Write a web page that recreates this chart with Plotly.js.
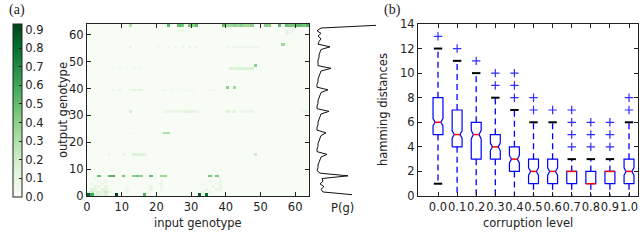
<!DOCTYPE html>
<html><head><meta charset="utf-8">
<script src="https://cdn.plot.ly/plotly-3.0.1.min.js"></script>
<style>html,body{margin:0;padding:0;background:#fff}#chart{width:640px;height:251px}</style>
</head><body><div id="chart"></div>
<script>
// ---------- panel (a): transition heatmap ----------
const nGeno = 64;
const heatRows = [0, 1, 2, 3, 4, 5, 6, 7, 15, 23, 31, 39, 40, 47, 48, 55, 56, 60, 61, 62, 63];
const heatCols = [
  [0,1,2,3,4,5,8,16,32,34],
  [0,1,2,3,4,5,6,11,17,33,35],
  [1,2,4,5,11,18,21,34,37,38],
  [2,3,5,18,21,36,38],
  [1,4,21,33,37,38],
  [3,5,21,35,38],
  [2,38],
  [3,6,7,10,13,14,15,18,21,22,35,37,40,42],
  [6,10,13,14,15,16,48],
  [12,16,21,22,23],
  [12,22,23,24,25,26,27,28,29,30,31,32,40,41,42,44,45,46,47,62,63],
  [7,9,12,13,14,15,22,24,26,28,30,35,36],
  [40,42],
  [7,9,11,13,15,41,42,43,44,45,46,47],
  [48],
  [12,20,23,25,27,29,31,40,41,42,43,44,45,46,47,48,49],
  [56],
  [57,58],
  [26,27,57,59],
  [58,59,60],
  [12,23,26,27,29,30,31,39,40,41,42,43,44,45,46,47,51,52,55,57,58,59,60,61,62,63]
];
const heatVals = [
  [0.85,0.6,0.15,0.12,0.1,0.15,0.93,0.55,0.85,0.8],
  [0.12,0.2,0.1,0.15,0.1,0.2,0.1,0.08,0.06,0.12,0.1],
  [0.12,0.12,0.12,0.12,0.08,0.1,0.08,0.1,0.1,0.08],
  [0.1,0.1,0.1,0.1,0.08,0.1,0.1],
  [0.08,0.08,0.08,0.06,0.08,0.08],
  [0.08,0.08,0.06,0.06,0.08],
  [0.06,0.06],
  [0.5,0.5,0.55,0.45,0.4,0.45,0.4,0.5,0.35,0.35,0.45,0.45,0.08,0.08],
  [0.06,0.1,0.15,0.15,0.15,0.12,0.2],
  [0.06,0.05,0.1,0.3,0.3],
  [0.18,0.08,0.08,0.1,0.08,0.1,0.08,0.1,0.12,0.12,0.06,0.06,0.15,0.06,0.14,0.06,0.06,0.06,0.08,0.06,0.08],
  [0.06,0.08,0.06,0.12,0.1,0.12,0.06,0.05,0.05,0.05,0.05,0.06,0.06],
  [0.4,0.35],
  [0.04,0.05,0.04,0.05,0.04,0.15,0.12,0.15,0.15,0.15,0.15,0.15],
  [0.4],
  [0.1,0.05,0.06,0.07,0.08,0.1,0.1,0.06,0.05,0.06,0.05,0.06,0.05,0.06,0.05,0.06,0.05],
  [0.35],
  [0.1,0.08],
  [0.08,0.06,0.1,0.08],
  [0.08,0.1,0.06],
  [0.3,0.5,0.5,0.45,0.45,0.4,0.5,0.5,0.35,0.35,0.4,0.35,0.4,0.35,0.35,0.4,0.4,0.4,0.5,0.5,0.45,0.45,0.5,0.5,0.45,0.55]
];
const cbTicks = [0.0,0.1,0.2,0.3,0.4,0.5,0.6,0.7,0.8,0.9];
const genoTicks = [0,10,20,30,40,50,60];

// P(g) marginal
const pGenotype = Array.from({length: nGeno}, (_, i) => i);
const pValue = [
  0.040,0.011,0.009,0.012,0.008,0.011,0.010,0.036,
  0.008,0.005,0.006,0.006,0.007,0.008,0.009,0.015,
  0.005,0.005,0.006,0.006,0.007,0.008,0.009,0.014,
  0.005,0.005,0.006,0.006,0.007,0.008,0.009,0.017,
  0.005,0.005,0.006,0.006,0.007,0.008,0.009,0.016,
  0.005,0.005,0.006,0.006,0.007,0.008,0.009,0.019,
  0.006,0.006,0.006,0.007,0.007,0.008,0.009,0.018,
  0.006,0.007,0.009,0.006,0.009,0.005,0.009,0.064
];

// ---------- panel (b): hamming distance box plots ----------
const corruption = [0.0,0.1,0.2,0.3,0.4,0.5,0.6,0.7,0.8,0.9,1.0];
const corrLabels = ['0.0','0.1','0.2','0.3','0.4','0.5','0.6','0.7','0.8','0.9','1.0'];
const q1 = [5,4,3,3,2,1,1,1,1,1,1];
const median = [6,5,5,4,3,2,2,2,1,2,2];
const q3 = [8,7,6,5,4,3,3,2,2,2,3];
const lowerFence = [1,0,0,0,0,0,0,0,0,0,0];
const upperFence = [12,11,10,8,7,6,6,3,3,3,6];
const notchSpan = [0.3,0.3,0.35,0.3,0.3,0.3,0.3,0,0,0,0.3];
const outliers = [[13],[12],[11],[9,10],[8,9,10],[7,8],[7],[4,5,6,7],[4,5,6],[4,5,6],[7,8]];
const hamTicks = [0,2,4,6,8,10,12,14];

// ---------- build ----------
const z = Array.from({length: nGeno}, () => new Array(nGeno).fill(0));
heatRows.forEach((r, k) => heatCols[k].forEach((c, j) => { z[r][c] = heatVals[k][j]; }));

const greens = [
  [0.0,'#f7fcf5'],[0.125,'#e5f5e0'],[0.25,'#c7e9c0'],[0.375,'#a1d99b'],
  [0.5,'#74c476'],[0.625,'#41ab5d'],[0.75,'#238b45'],[0.875,'#006d2c'],[1.0,'#00441b']
];

const W = 640, H = 251;
const px = v => v / W, py = v => 1 - v / H;
const ink = '#222';
const font = 'DejaVu Sans, Verdana, sans-serif';
const blue = '#0000ff';

const traces = [];
traces.push({
  type: 'heatmap', z: z, x0: 0.5, dx: 1, y0: 0.5, dy: 1,
  colorscale: greens, zmin: 0, zmax: 0.93, hoverinfo: 'skip',
  xaxis: 'x', yaxis: 'y',
  colorbar: {
    x: px(13), xanchor: 'left', y: py(24), yanchor: 'top',
    len: 173 / H, lenmode: 'fraction', thickness: 9, thicknessmode: 'pixels',
    xpad: 0, ypad: 0, outlinewidth: 1, outlinecolor: ink,
    tickvals: cbTicks, ticktext: cbTicks.map(v => v.toFixed(1)),
    ticks: 'inside', ticklen: 3, tickcolor: ink,
    tickfont: {family: font, size: 11.5, color: ink}
  }
});
traces.push({
  type: 'scatter', mode: 'lines', x: pValue, y: pGenotype.map(g => g + 0.5),
  xaxis: 'x3', yaxis: 'y', line: {color: '#111', width: 1}, hoverinfo: 'skip', cliponaxis: false
});

// box outlines (notched, matplotlib style) drawn as paths on the data axes
const halfW = 0.026, notchHalf = 0.015;
const bx = [], by = [], mx = [], my = [];
corruption.forEach((c, i) => {
  const m = median[i], ns = notchSpan[i];
  if (ns > 0) {
    bx.push(c - halfW, c + halfW, c + halfW, c + notchHalf, c + halfW, c + halfW,
            c - halfW, c - halfW, c - notchHalf, c - halfW, c - halfW, null);
    by.push(q1[i], q1[i], m - ns, m, m + ns, q3[i], q3[i], m + ns, m, m - ns, q1[i], null);
    mx.push(c - notchHalf, c + notchHalf, null);
  } else {
    bx.push(c - halfW, c + halfW, c + halfW, c - halfW, c - halfW, null);
    by.push(q1[i], q1[i], q3[i], q3[i], q1[i], null);
    mx.push(c - halfW, c + halfW, null);
  }
  my.push(m, m, null);
});
const wx = [], wy = [];
corruption.forEach((c, i) => {
  wx.push(c, c, null, c, c, null);
  wy.push(q1[i], lowerFence[i], null, q3[i], upperFence[i], null);
});
traces.push({type: 'scatter', mode: 'lines', x: wx, y: wy, xaxis: 'x2', yaxis: 'y2',
  line: {color: blue, width: 1.3, dash: '6px,4px'}, hoverinfo: 'skip'});
traces.push({type: 'scatter', mode: 'lines', x: bx, y: by, xaxis: 'x2', yaxis: 'y2',
  line: {color: blue, width: 1.2}, hoverinfo: 'skip'});
traces.push({type: 'scatter', mode: 'lines', x: mx, y: my, xaxis: 'x2', yaxis: 'y2',
  line: {color: '#ff0000', width: 1.5}, hoverinfo: 'skip'});
// whisker caps (the ones sitting on the x axis are hidden by the spine in the reference)
const capX = [], capY = [];
corruption.forEach((c, i) => {
  if (lowerFence[i] > 0) { capX.push(c); capY.push(lowerFence[i]); }
  capX.push(c); capY.push(upperFence[i]);
});
traces.push({type: 'scatter', mode: 'markers', x: capX, y: capY, xaxis: 'x2', yaxis: 'y2',
  marker: {symbol: 'line-ew', size: 6, color: '#000', line: {color: '#000', width: 2}}, hoverinfo: 'skip'});
const ox = [], oy = [];
outliers.forEach((arr, i) => arr.forEach(v => { ox.push(corruption[i]); oy.push(v); }));
traces.push({type: 'scatter', mode: 'markers', x: ox, y: oy, xaxis: 'x2', yaxis: 'y2',
  marker: {symbol: 'cross-thin', size: 6, color: '#2f2fff', line: {color: '#2f2fff', width: 1.2}}, hoverinfo: 'skip'});

const axBase = {
  showline: true, linecolor: ink, linewidth: 1, mirror: 'ticks',
  ticks: 'inside', ticklen: 4, tickcolor: ink, showgrid: false, zeroline: false,
  tickfont: {family: font, size: 11.5, color: ink}, fixedrange: true, tickangle: 0
};
const yDom = [1 - 196 / H, 1 - 24 / H];
const ann = (text, x, y, extra) => Object.assign({text: text, x: px(x), y: py(y), xref: 'paper', yref: 'paper',
  xanchor: 'center', yanchor: 'middle', showarrow: false}, extra || {});
const serif = {family: 'Liberation Serif, Times New Roman, serif', size: 14, color: ink};
const layout = {
  width: W, height: H, margin: {l: 0, r: 0, t: 0, b: 0},
  paper_bgcolor: '#fff', plot_bgcolor: 'rgba(0,0,0,0)', showlegend: false,
  font: {family: font, size: 11.5, color: ink},
  xaxis: Object.assign({}, axBase, {domain: [px(87), px(309)], range: [0, 64], tickvals: genoTicks, anchor: 'y'}),
  yaxis: Object.assign({}, axBase, {domain: yDom, range: [0, 64], tickvals: genoTicks, anchor: 'x'}),
  xaxis2: Object.assign({}, axBase, {domain: [px(418), px(638)], range: [-0.1047, 1.047],
    tickvals: corruption, ticktext: corrLabels, anchor: 'y2'}),
  yaxis2: Object.assign({}, axBase, {domain: yDom, range: [0, 14], tickvals: hamTicks, anchor: 'x2'}),
  xaxis3: {domain: [px(312), px(378)], range: [0, 0.066], visible: false, anchor: 'y', fixedrange: true},
  annotations: [
    ann('(a)', 17, 10, {font: serif}),
    ann('(b)', 392, 10, {font: serif}),
    ann('output genotype', 63, 110, {textangle: -90}),
    ann('input genotype', 198, 223),
    ann('P(g)', 342, 208),
    ann('hamming distances', 383, 110, {textangle: -90}),
    ann('corruption level', 528, 223)
  ]
};
Plotly.newPlot('chart', traces, layout, {staticPlot: true, displayModeBar: false});
</script>
</body></html>
